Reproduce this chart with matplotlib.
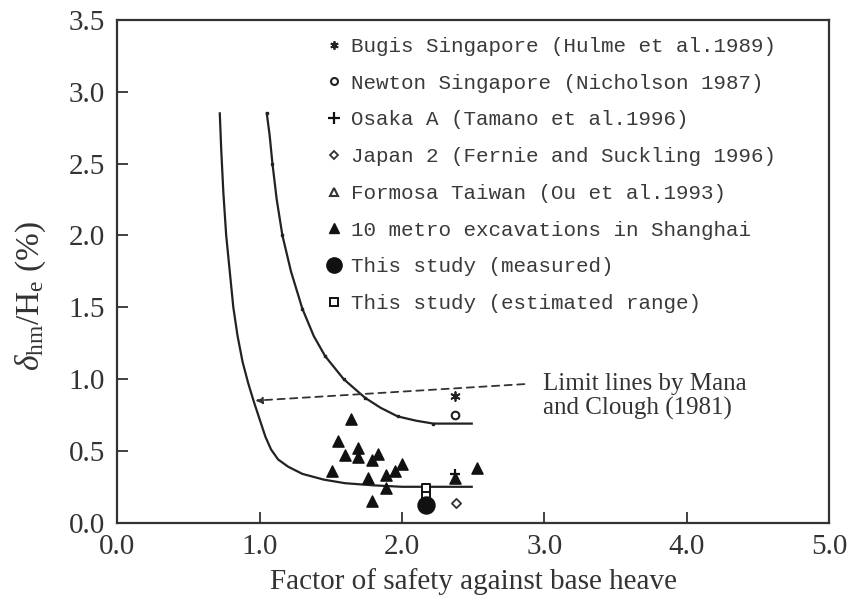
import matplotlib
matplotlib.use("Agg")
import matplotlib.pyplot as plt
from matplotlib.lines import Line2D
import numpy as np

plt.rcParams['mathtext.fontset'] = 'custom'
plt.rcParams['mathtext.rm'] = 'Liberation Serif'
plt.rcParams['mathtext.it'] = 'Liberation Serif:italic'

# ---- data ----
left_x = [0.72, 0.73, 0.745, 0.765, 0.79, 0.815, 0.845, 0.88, 0.92, 0.96, 1.00, 1.04, 1.08, 1.13,
          1.20, 1.30, 1.45, 1.60, 1.80, 2.00, 2.49]
left_y = [2.85, 2.60, 2.30, 2.00, 1.75, 1.50, 1.30, 1.12, 0.97, 0.84, 0.72, 0.60, 0.51, 0.44,
          0.39, 0.34, 0.30, 0.275, 0.26, 0.25, 0.25]
right_x = [1.05, 1.07, 1.09, 1.12, 1.16, 1.22, 1.30, 1.38, 1.46, 1.59, 1.74, 1.85, 1.97, 2.10, 2.22, 2.49]
right_y = [2.85, 2.70, 2.50, 2.25, 2.00, 1.75, 1.49, 1.30, 1.16, 1.00, 0.87, 0.80, 0.74, 0.71, 0.69, 0.69]
right_dots = [0, 2, 4, 6, 8, 9, 10, 12, 14]

bugis_x, bugis_y = [2.37], [0.88]
newton_x, newton_y = [2.37], [0.75]
osaka_x, osaka_y = [2.37], [0.34]
japan_x, japan_y = [2.38], [0.14]
metro_x = [1.64, 1.55, 1.60, 1.69, 1.69, 1.79, 1.83, 1.51, 1.76, 1.89, 1.95, 2.00, 1.89, 1.79, 2.53, 2.37]
metro_y = [0.72, 0.57, 0.47, 0.52, 0.46, 0.44, 0.48, 0.36, 0.31, 0.33, 0.36, 0.41, 0.24, 0.15, 0.38, 0.31]
meas_x, meas_y = [2.17], [0.125]
est_x = [2.17, 2.17]
est_y = [0.20, 0.245]

arrow_start = (2.86, 0.965)
arrow_end = (0.97, 0.85)
note_text = "Limit lines by Mana\nand Clough (1981)"
note_pos = (2.99, 0.88)

legend_labels = [
    "Bugis Singapore (Hulme et al.1989)",
    "Newton Singapore (Nicholson 1987)",
    "Osaka A (Tamano et al.1996)",
    "Japan 2 (Fernie and Suckling 1996)",
    "Formosa Taiwan (Ou et al.1993)",
    "10 metro excavations in Shanghai",
    "This study (measured)",
    "This study (estimated range)",
]

xticks = [0.0, 1.0, 2.0, 3.0, 4.0, 5.0]
yticks = [0.0, 0.5, 1.0, 1.5, 2.0, 2.5, 3.0, 3.5]

# ---- figure ----
fig = plt.figure(figsize=(8.51, 6.07), dpi=100)
ax = fig.add_axes([117.3/851, 1-522.7/607, (829-117.3)/851, (522.7-20)/607])
ink = '#222222'
serif = 'Liberation Serif'

ax.plot(left_x, left_y, color=ink, lw=1.6, solid_joinstyle='round')
ax.plot(right_x, right_y, color=ink, lw=1.6, marker='s', ms=1.8, markevery=right_dots,
        solid_joinstyle='round')

ax.scatter(metro_x, metro_y, marker='^', s=65, color='#111111', zorder=3)
ax.scatter(bugis_x, bugis_y, marker=(6, 2, 0), s=40, color='#222222', lw=1.3, zorder=3)
ax.scatter(newton_x, newton_y, marker='o', s=30, facecolor='white', edgecolor='#222222', lw=1.5, zorder=3)
ax.scatter(osaka_x, osaka_y, marker='+', s=60, color='#111111', lw=1.6, zorder=4)
ax.scatter(japan_x, japan_y, marker='D', s=22, facecolor='white', edgecolor='#333333', lw=1.3, zorder=3)
ax.plot(est_x, est_y, color='#111111', lw=1.2, zorder=3)
ax.scatter(est_x, est_y, marker='s', s=28, facecolor='white', edgecolor='#111111', lw=1.4, zorder=4)
ax.scatter(meas_x, meas_y, marker='o', s=150, color='#111111', zorder=5)

ax.annotate('', xy=arrow_end, xytext=arrow_start,
            arrowprops=dict(arrowstyle='-|>', linestyle=(0, (4, 3)), color='#333333', lw=1.3,
                            mutation_scale=10, shrinkA=0, shrinkB=0))
ax.text(note_pos[0], note_pos[1], note_text, fontsize=18, family=serif, color='#333333',
        va='center', ha='left', linespacing=1.1)

ax.set_xlim(0, 5)
ax.set_ylim(0, 3.5)
ax.set_xticks(xticks)
ax.set_yticks(yticks)
ax.set_xticklabels([f"{v:.1f}" for v in xticks], fontsize=21, family=serif, color='#333333')
ax.set_yticklabels([f"{v:.1f}" for v in yticks], fontsize=21, family=serif, color='#333333')
ax.tick_params(direction='in', length=8, width=1.3, top=False, right=False, colors='#333333')
ax.tick_params(axis='x', pad=8)
ax.tick_params(axis='y', pad=9)
for s in ax.spines.values():
    s.set_linewidth(1.6)
    s.set_color('#333333')

ax.set_xlabel("Factor of safety against base heave", fontsize=21, family=serif, color='#333333', labelpad=6)
ax.set_ylabel(r"$\delta_{\rm hm}/\rm H_e$ (%)", fontsize=24, family=serif, color='#333333')
ax.yaxis.set_label_coords(-0.097, 0.451)

handles = [
    Line2D([], [], ls='', marker=(6, 2, 0), ms=6, color='#222222', mew=1.3),
    Line2D([], [], ls='', marker='o', ms=5, mfc='white', mec='#222222', mew=1.5),
    Line2D([], [], ls='', marker='+', ms=8, color='#111111', mew=1.6),
    Line2D([], [], ls='', marker='D', ms=4.5, mfc='white', mec='#333333', mew=1.3),
    Line2D([], [], ls='', marker='^', ms=6, mfc='white', mec='#333333', mew=1.5),
    Line2D([], [], ls='', marker='^', ms=7, color='#111111'),
    Line2D([], [], ls='', marker='o', ms=11, color='#111111'),
    Line2D([], [], ls='', marker='s', ms=6, mfc='white', mec='#111111', mew=1.4),
]
leg = ax.legend(handles, legend_labels, loc='upper left', bbox_to_anchor=(328/851, 1-37/607),
                bbox_transform=fig.transFigure, frameon=False, borderpad=0, borderaxespad=0,
                handlelength=0.6, handletextpad=0.5, labelspacing=0.85,
                prop={'family': 'Liberation Mono', 'size': 15.0})
for t in leg.get_texts():
    t.set_color('#3a3a3a')

fig.savefig('out.png', dpi=100)
